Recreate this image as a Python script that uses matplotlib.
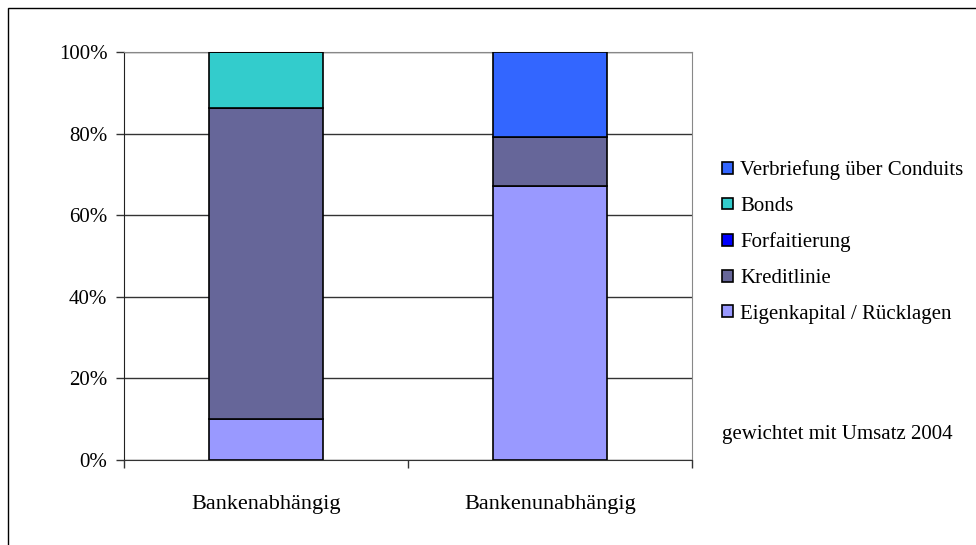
import matplotlib
matplotlib.use("Agg")
import matplotlib.pyplot as plt
from matplotlib.patches import Rectangle, Patch
from matplotlib.ticker import FixedLocator, PercentFormatter

plt.rcParams['font.family'] = ['Liberation Serif', 'DejaVu Serif']

categories = ["Bankenabhängig", "Bankenunabhängig"]
series_names = ["Eigenkapital / Rücklagen", "Kreditlinie", "Forfaitierung",
                "Bonds", "Verbriefung über Conduits"]
eigenkapital = [10.0, 67.2]
kreditlinie = [76.3, 12.0]
forfaitierung = [0.0, 0.0]
bonds = [13.7, 0.0]
verbriefung = [0.0, 20.8]
series_values = [eigenkapital, kreditlinie, forfaitierung, bonds, verbriefung]
colors = ["#9999FF", "#666699", "#0000FF", "#33CCCC", "#3366FF"]
y_ticks = [0, 20, 40, 60, 80, 100]
note = "gewichtet mit Umsatz 2004"

W, H = 976, 545
fig = plt.figure(figsize=(W / 100, H / 100), dpi=100)
ax = fig.add_axes([124 / W, 1 - 460 / H, (692 - 124) / W, (460 - 52) / H])

x = list(range(len(categories)))
bottom = [0.0] * len(categories)
for name, vals, col in zip(series_names, series_values, colors):
    ax.bar(x, vals, width=0.4, bottom=bottom, color=col,
           edgecolor="black", linewidth=1.2, zorder=3)
    bottom = [b + v for b, v in zip(bottom, vals)]

ax.set_xlim(-0.5, len(categories) - 0.5)
ax.set_ylim(0, 100)
ax.yaxis.set_major_locator(FixedLocator(y_ticks))
ax.yaxis.set_major_formatter(PercentFormatter(decimals=0))
ax.grid(axis="y", color="#333333", linewidth=1.0, zorder=0)

ax.set_xticks([-0.5, 0.5, 1.5])
ax.set_xticklabels([])
ax.set_xticks(x, minor=True)
ax.set_xticklabels(categories, minor=True)
ax.tick_params(axis="x", which="major", length=6, width=1, color="#333333")
ax.tick_params(axis="x", which="minor", length=0, pad=25, labelsize=16)
ax.tick_params(axis="y", length=6, width=1, color="#333333", labelsize=15, pad=6)

ax.spines["left"].set_color("#222222")
ax.spines["bottom"].set_color("#333333")
ax.spines["top"].set_color("#888888")
ax.spines["right"].set_color("#888888")

handles = [Patch(facecolor=c, edgecolor="black", linewidth=1.2)
           for c in colors][::-1]
fig.legend(handles, series_names[::-1], loc="upper left",
           bbox_to_anchor=(714 / W, 1 - 152 / H), frameon=False,
           fontsize=15, handlelength=0.5, handleheight=0.5,
           handletextpad=0.35, labelspacing=0.8, borderaxespad=0)

fig.text(722 / W, 1 - 434 / H, note, fontsize=15, va="center", ha="left")

fig.patches.append(Rectangle((8 / W, -0.1), 1.2, 1 - 8 / H + 0.1,
                             transform=fig.transFigure, fill=False,
                             edgecolor="black", linewidth=1.0))

fig.savefig("out.png", dpi=100)
